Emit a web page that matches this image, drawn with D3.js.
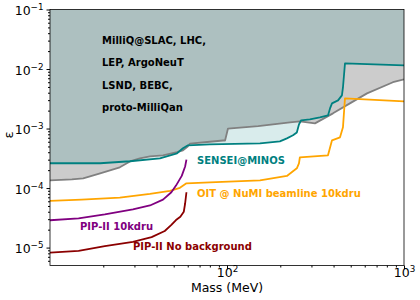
<!DOCTYPE html>
<html>
<head>
<meta charset="utf-8">
<script src="https://cdn.jsdelivr.net/npm/d3@7"></script>
<style>
  body { margin: 0; background: #fff; }
  text { font-family: "DejaVu Sans", sans-serif; }
</style>
</head>
<body>
<script>
// existing constraints (gray) : mass [MeV], epsilon
var existingMass = [10, 13.3, 15.4, 19.2, 24.8, 28.3, 32.2, 36.7, 43.5, 52.2, 56.4, 60, 61.8, 80, 95, 97.5, 101.3, 150, 227, 258, 314, 397, 500, 618, 866, 1000];
var existingEps  = [1.35e-4, 1.4e-4, 1.46e-4, 1.77e-4, 2.23e-4, 2.8e-4, 3.16e-4, 3.42e-4, 3.55e-4, 4.0e-4, 4.3e-4, 5.0e-4, 5.6e-4, 6.0e-4, 6.3e-4, 6.3e-4, 1.0e-3, 1.1e-3, 1.27e-3, 1.32e-3, 1.22e-3, 1.8e-3, 2.7e-3, 3.9e-3, 6.0e-3, 6.7e-3];

// SENSEI@MINOS (teal)
var senseiMass = [10, 19.2, 28.3, 41.8, 52.2, 56.4, 60.2, 80, 153.6, 175, 199, 218, 236, 248, 255, 262, 294, 335, 372, 382, 392, 424, 446, 452, 464, 1000];
var senseiEps  = [2.61e-4, 2.61e-4, 2.82e-4, 3.16e-4, 3.84e-4, 4.66e-4, 5.22e-4, 5.43e-4, 5.64e-4, 5.87e-4, 6.1e-4, 6.85e-4, 7.7e-4, 8.6e-4, 1.17e-3, 1.37e-3, 1.43e-3, 1.54e-3, 1.66e-3, 2.18e-3, 2.65e-3, 2.97e-3, 3.61e-3, 4.9e-3, 1.24e-2, 1.15e-2];

// OIT @ NuMI beamline 10kdru (orange)
var oitMass = [10, 15.1, 24.8, 36.7, 47.6, 54.2, 59, 80, 153.6, 218, 248, 255, 258, 372, 392, 435, 452, 464, 1000];
var oitEps  = [6.1e-5, 6.4e-5, 6.9e-5, 8.0e-5, 9.0e-5, 1.01e-4, 1.2e-4, 1.25e-4, 1.35e-4, 1.6e-4, 2.15e-4, 2.6e-4, 3.29e-4, 3.55e-4, 6.34e-4, 7.12e-4, 1.05e-3, 3.21e-3, 2.86e-3];

// PIP-II 10kdru (purple)
var pipMass = [10, 14.5, 20.4, 29.4, 36.7, 43.5, 48.5, 51.5, 55.5, 58, 59];
var pipEps  = [2.88e-5, 3.1e-5, 3.6e-5, 4.4e-5, 5.1e-5, 6.4e-5, 8.5e-5, 1.1e-4, 1.6e-4, 2.3e-4, 3.0e-4];

// PIP-II No background (dark red)
var pipNbMass = [10, 14.5, 20.4, 29.4, 37.5, 44.5, 48.5, 51.5, 54.5, 57, 58, 59];
var pipNbEps  = [8.2e-6, 8.8e-6, 1.06e-5, 1.25e-5, 1.5e-5, 1.9e-5, 2.4e-5, 2.9e-5, 3.3e-5, 4.0e-5, 5.5e-5, 8.5e-5];

var xMajor = [100, 1000];
var yMajor = [1e-5, 1e-4, 1e-3, 1e-2, 1e-1];
var existingNames = ["MilliQ@SLAC, LHC,", "LEP, ArgoNeuT", "LSND, BEBC,", "proto-MilliQan"];

const width = 420, height = 300;
const margin = { left: 50, right: 16, top: 9.5, bottom: 34.5 };
const innerW = width - margin.left - margin.right;
const innerH = height - margin.top - margin.bottom;

var svg = d3.select("body").append("svg")
  .attr("width", width).attr("height", height);

var g = svg.append("g")
  .attr("transform", `translate(${margin.left},${margin.top})`);

var x = d3.scaleLog().domain([10, 1000]).range([0, innerW]);
var y = d3.scaleLog().domain([5e-6, 1e-1]).range([innerH, 0]);

function zip(ms, es) {
  return ms.map((m, i) => ({ m: m, e: es[i] }));
}

g.append("defs").append("clipPath").attr("id", "clip")
  .append("rect").attr("width", innerW).attr("height", innerH);

var plot = g.append("g").attr("clip-path", "url(#clip)");

var area = d3.area().x(d => x(d.m)).y0(0).y1(d => y(d.e));
var line = d3.line().x(d => x(d.m)).y(d => y(d.e));

// filled regions
plot.append("path").datum(zip(existingMass, existingEps))
  .attr("d", area).attr("fill", "#cccccc");
plot.append("path").datum(zip(senseiMass, senseiEps))
  .attr("d", area).attr("fill", "teal").attr("fill-opacity", 0.15);

var curves = [
  { m: existingMass, e: existingEps, c: "gray" },
  { m: oitMass, e: oitEps, c: "orange" },
  { m: pipMass, e: pipEps, c: "purple" },
  { m: pipNbMass, e: pipNbEps, c: "darkred" },
  { m: senseiMass, e: senseiEps, c: "teal" }
];
curves.forEach(function (cv) {
  plot.append("path").datum(zip(cv.m, cv.e))
    .attr("d", line)
    .attr("fill", "none")
    .attr("stroke", cv.c)
    .attr("stroke-width", 1.8)
    .attr("stroke-linejoin", "round");
});

// labels
existingNames.forEach(function (t, i) {
  g.append("text")
    .attr("x", 102 - margin.left)
    .attr("y", 40 + i * 22.5 - margin.top)
    .attr("dy", "0.35em")
    .attr("font-size", 10).attr("font-weight", "bold")
    .attr("fill", "black").text(t);
});
var notes = [
  { t: "SENSEI@MINOS", x: 197, y: 160, c: "teal" },
  { t: "OIT @ NuMI beamline 10kdru", x: 197, y: 193, c: "orange" },
  { t: "PIP-II 10kdru", x: 80, y: 226, c: "purple" },
  { t: "PIP-II No background", x: 133, y: 246.5, c: "darkred" }
];
notes.forEach(function (n) {
  g.append("text")
    .attr("x", n.x - margin.left)
    .attr("y", n.y - margin.top)
    .attr("dy", "0.35em")
    .attr("font-size", 10).attr("font-weight", "bold")
    .attr("fill", n.c).text(n.t);
});

// minor ticks
var xMinor = [];
[10, 100].forEach(function (b) {
  for (var k = 2; k <= 9; k++) xMinor.push(b * k);
});
var yMinor = [];
[1e-6, 1e-5, 1e-4, 1e-3, 1e-2].forEach(function (b) {
  for (var k = 2; k <= 9; k++) if (b * k >= 5e-6) yMinor.push(b * k);
});

g.append("g").attr("transform", `translate(0,${innerH})`)
  .call(d3.axisBottom(x).tickValues(xMinor).tickSize(2).tickFormat(""))
  .call(s => s.select(".domain").remove());
g.append("g")
  .call(d3.axisLeft(y).tickValues(yMinor).tickSize(2).tickFormat(""))
  .call(s => s.select(".domain").remove());

function powLabel(sel, expFn) {
  sel.selectAll(".tick text").each(function (d) {
    var t = d3.select(this).text("");
    t.append("tspan").text("10");
    t.append("tspan").attr("dy", "-0.55em").attr("font-size", "0.7em")
      .text(expFn(d));
  });
}

var xAxisG = g.append("g").attr("transform", `translate(0,${innerH})`)
  .call(d3.axisBottom(x).tickValues(xMajor).tickSize(3.5).tickPadding(0))
  .call(s => s.select(".domain").remove());
xAxisG.selectAll("text").attr("font-size", 12.5).attr("fill", "black")
  .attr("font-family", "DejaVu Sans").attr("dy", "0.65em");
powLabel(xAxisG, d => Math.round(Math.log10(d)));

var yAxisG = g.append("g")
  .call(d3.axisLeft(y).tickValues(yMajor).tickSize(3.5).tickPadding(3))
  .call(s => s.select(".domain").remove());
yAxisG.selectAll("text").attr("font-size", 12.5).attr("fill", "black")
  .attr("font-family", "DejaVu Sans").attr("dy", "0.4em");
powLabel(yAxisG, d => "\u2212" + Math.abs(Math.round(Math.log10(d))));

// frame
g.append("rect").attr("width", innerW).attr("height", innerH)
  .attr("fill", "none").attr("stroke", "black").attr("stroke-width", 0.8);

// axis titles
svg.append("text")
  .attr("x", margin.left + innerW / 2).attr("y", 292)
  .attr("text-anchor", "middle").attr("font-size", 12.5)
  .text("Mass (MeV)");
svg.append("text")
  .attr("transform", "translate(13,135) rotate(-90)")
  .attr("text-anchor", "middle").attr("font-size", 13)
  .text("\u03b5");
</script>
</body>
</html>
